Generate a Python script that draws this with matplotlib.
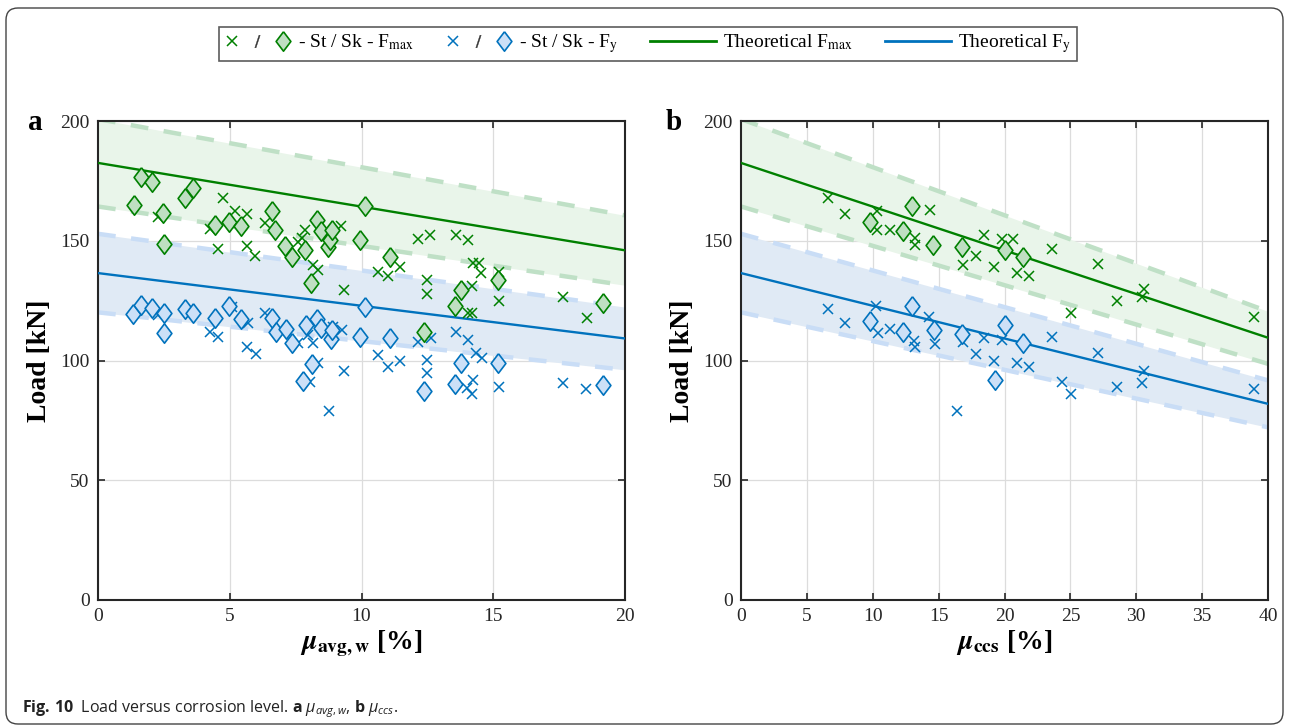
import matplotlib
matplotlib.use('Agg')
import matplotlib.pyplot as plt
import numpy as np
from matplotlib.lines import Line2D
from matplotlib.legend_handler import HandlerTuple
from matplotlib.patches import FancyBboxPatch
from matplotlib.transforms import IdentityTransform

plt.rcParams['font.family'] = ['Liberation Serif', 'DejaVu Serif']
plt.rcParams['mathtext.fontset'] = 'stix'
plt.rcParams['mathtext.rm'] = 'Open Sans'
plt.rcParams['mathtext.it'] = 'Open Sans:italic'
plt.rcParams['mathtext.bf'] = 'Open Sans:bold'

# ---- panel a : load vs mu_avg,w ----
a_st_max_mu = [2.29, 4.25, 4.54, 4.76, 5.2, 5.64, 5.64, 5.96, 6.34, 7.6, 7.73, 7.86, 8.17, 8.36,
               9.22, 9.35, 10.64, 11.02, 11.46, 12.16, 12.47, 12.47, 12.6, 13.59, 14.05, 14.05,
               14.18, 14.18, 14.24, 14.47, 14.52, 15.23, 15.23, 17.66, 18.55]
a_st_max_F = [160.0, 154.8, 146.4, 167.7, 162.4, 161.2, 148.0, 143.6, 157.3, 149.5, 151.0, 154.5,
              139.9, 137.8, 156.2, 129.4, 137.1, 135.3, 139.2, 150.6, 133.8, 127.6, 152.4, 152.4,
              150.3, 120.0, 120.0, 131.1, 140.6, 140.8, 136.7, 137.1, 125.0, 126.4, 117.9]
a_st_y_mu = [2.28, 4.25, 4.54, 5.07, 5.64, 5.68, 5.98, 6.34, 7.6, 7.98, 8.05, 8.17, 8.34, 8.78,
             8.93, 9.25, 9.35, 10.64, 11.02, 11.46, 12.16, 12.47, 12.5, 12.62, 13.59, 13.99,
             14.05, 14.18, 14.22, 14.35, 14.56, 15.23, 17.63, 18.52]
a_st_y_F = [119.0, 112.0, 109.9, 122.5, 105.8, 115.8, 102.7, 119.7, 107.2, 110.6, 91.2, 107.2,
            98.8, 79.0, 114.1, 112.7, 95.8, 102.3, 97.2, 99.8, 107.9, 94.7, 100.2, 109.5, 111.8,
            88.4, 108.4, 86.0, 91.9, 103.0, 101.2, 88.8, 90.7, 88.0]
a_sk_max_mu = [1.37, 1.63, 2.06, 2.48, 2.52, 3.30, 3.59, 4.44, 4.97, 5.41, 6.59, 6.72, 7.10, 7.35,
               7.86, 8.08, 8.30, 8.45, 8.74, 8.80, 8.87, 9.94, 10.13, 11.08, 12.37, 13.55, 13.76,
               15.19, 19.15]
a_sk_max_F = [164.9, 176.8, 174.7, 161.4, 148.5, 167.7, 171.9, 156.6, 158.0, 156.2, 162.4, 154.5,
              148.0, 143.4, 146.1, 132.5, 158.7, 153.9, 147.5, 150.3, 154.5, 150.3, 164.5, 143.3,
              112.0, 122.8, 129.4, 133.6, 123.9]
a_sk_y_mu = [1.34, 1.63, 2.06, 2.50, 2.52, 3.30, 3.62, 4.44, 4.97, 5.41, 6.59, 6.74, 7.12, 7.35,
             7.79, 7.88, 8.11, 8.30, 8.46, 8.84, 8.89, 9.94, 10.13, 11.08, 12.37, 13.55, 13.76,
             15.19, 19.15]
a_sk_y_F = [119.3, 123.2, 121.8, 120.0, 111.3, 121.4, 120.0, 117.6, 122.8, 117.2, 117.6, 111.7,
            113.0, 107.5, 91.6, 114.8, 98.5, 117.2, 113.4, 108.8, 112.7, 110.0, 122.5, 109.3,
            87.4, 90.1, 99.1, 98.8, 89.8]

# ---- panel b : load vs mu_ccs ----
b_st_max_mu = [6.63, 7.89, 10.30, 10.30, 11.31, 13.21, 13.21, 14.35, 16.83, 17.84, 18.44, 19.2,
               19.79, 20.67, 20.97, 21.88, 23.58, 25.05, 27.07, 28.52, 30.41, 30.59, 38.96]
b_st_max_F = [167.7, 161.0, 162.4, 154.5, 154.5, 151.0, 148.2, 162.8, 139.9, 143.6, 152.4, 139.2,
              150.6, 150.6, 136.7, 135.3, 146.6, 120.0, 140.2, 125.0, 126.7, 129.7, 118.0]
b_st_y_mu = [6.63, 7.89, 10.25, 10.37, 11.31, 13.13, 13.21, 14.29, 14.72, 16.37, 16.83, 17.84,
             18.44, 19.2, 19.79, 20.97, 21.88, 23.58, 24.34, 25.05, 27.07, 28.52, 30.41, 30.59, 38.96]
b_st_y_F = [121.4, 115.5, 122.8, 111.3, 113.0, 108.1, 105.8, 118.0, 106.9, 79.0, 107.9, 102.7,
            109.3, 99.8, 108.6, 98.8, 97.2, 110.0, 91.2, 86.0, 103.0, 88.8, 90.7, 95.8, 88.0]
b_sk_max_mu = [9.79, 12.32, 12.96, 14.6, 16.75, 20.04, 21.38]
b_sk_max_F = [158.0, 153.9, 164.5, 148.2, 147.5, 146.1, 143.4]
b_sk_y_mu = [9.79, 12.32, 12.96, 14.65, 16.75, 19.28, 20.04, 21.38]
b_sk_y_F = [116.6, 112.1, 122.8, 112.7, 111.1, 91.9, 114.8, 107.4]

# theoretical lines (end points) and scatter bands (lower, upper)
a_mu_line = [0, 20]
a_theo_max = [182.5, 146.0]
a_theo_y = [136.5, 109.2]
a_band_max = ([164.3, 131.4], [200.8, 160.6])
a_band_y = ([120.1, 96.1], [152.9, 122.3])
b_mu_line = [0, 40]
b_theo_max = [182.5, 109.5]
b_theo_y = [136.5, 81.9]
b_band_max = ([164.3, 98.6], [200.8, 120.5])
b_band_y = ([120.1, 72.1], [152.9, 91.7])

GREEN = '#008000'
GREEN_FILL = '#bfdfc2'
GREEN_BAND = '#e9f5ea'
GREEN_DASH = '#bfe0c6'
BLUE = '#0072bd'
BLUE_FILL = '#cce0f7'
BLUE_BAND = '#e0eaf5'
BLUE_DASH = '#c9ddf6'
DIAMOND = [(0, 1), (0.76, 0), (0, -1), (-0.76, 0), (0, 1)]
DMS = 14     # diamond marker size
XMS = 7.5    # cross marker size


def draw_panel(ax, mu_line, theo_max, theo_y, band_max, band_y, st_max, st_y, sk_max, sk_y,
               xticks, xlabel):
    for band, fill, dash in [(band_max, GREEN_BAND, GREEN_DASH), (band_y, BLUE_BAND, BLUE_DASH)]:
        ax.fill_between(mu_line, band[0], band[1], color=fill, lw=0, zorder=1)
        for edge in band:
            ax.plot(mu_line, edge, color=dash, lw=3.2, ls=(0, (4, 3.5)), zorder=2)
    ax.plot(mu_line, theo_max, color=GREEN, lw=1.7, zorder=3)
    ax.plot(mu_line, theo_y, color=BLUE, lw=1.7, zorder=3)

    ax.plot(st_max[0], st_max[1], ls='none', marker='x', ms=XMS, mew=1.1, color=GREEN, zorder=4)
    ax.plot(st_y[0], st_y[1], ls='none', marker='x', ms=XMS, mew=1.1, color=BLUE, zorder=4)
    ax.plot(sk_max[0], sk_max[1], ls='none', marker=DIAMOND, ms=DMS, mew=1.2,
            mfc=GREEN_FILL, mec=GREEN, zorder=5)
    ax.plot(sk_y[0], sk_y[1], ls='none', marker=DIAMOND, ms=DMS, mew=1.2,
            mfc=BLUE_FILL, mec=BLUE, zorder=5)

    ax.set_xlim(xticks[0], xticks[-1])
    ax.set_ylim(0, 200)
    ax.set_xticks(xticks)
    ax.set_yticks([0, 50, 100, 150, 200])
    ax.grid(True, color='#dcdcdc', lw=0.9)
    ax.set_axisbelow(True)
    ax.tick_params(direction='in', top=True, right=True, length=5, width=1.2,
                   labelsize=14, colors='#262626', pad=6)
    for s in ax.spines.values():
        s.set_color('#262626')
        s.set_linewidth(1.5)
    ax.set_xlabel(xlabel, fontsize=20, fontweight='bold', labelpad=2)
    ax.set_ylabel('Load [kN]', fontsize=20, fontweight='bold', labelpad=6)


fig = plt.figure(figsize=(12.9, 7.27), dpi=100)
ax_a = fig.add_axes([98 / 1290, 127 / 727, 527 / 1290, 479 / 727])
ax_b = fig.add_axes([741 / 1290, 127 / 727, 527 / 1290, 479 / 727])

draw_panel(ax_a, a_mu_line, a_theo_max, a_theo_y, a_band_max, a_band_y,
           (a_st_max_mu, a_st_max_F), (a_st_y_mu, a_st_y_F),
           (a_sk_max_mu, a_sk_max_F), (a_sk_y_mu, a_sk_y_F),
           [0, 5, 10, 15, 20], r'$\boldsymbol{\mu}_{\mathbf{avg,w}}$ [%]')
draw_panel(ax_b, b_mu_line, b_theo_max, b_theo_y, b_band_max, b_band_y,
           (b_st_max_mu, b_st_max_F), (b_st_y_mu, b_st_y_F),
           (b_sk_max_mu, b_sk_max_F), (b_sk_y_mu, b_sk_y_F),
           [0, 5, 10, 15, 20, 25, 30, 35, 40], r'$\boldsymbol{\mu}_{\mathbf{ccs}}$ [%]')

fig.text(28 / 1290, 1 - 123 / 727, 'a', fontsize=21, fontweight='bold', va='center')
fig.text(666 / 1290, 1 - 123 / 727, 'b', fontsize=21, fontweight='bold', va='center')

# legend
slash = Line2D([], [], ls='none', marker='$/$', color='#333333', ms=9, mew=0.3)
h_max = (Line2D([], [], ls='none', marker='x', ms=XMS, mew=1.1, color=GREEN), slash,
         Line2D([], [], ls='none', marker=DIAMOND, ms=DMS, mew=1.2, mfc=GREEN_FILL, mec=GREEN))
h_y = (Line2D([], [], ls='none', marker='x', ms=XMS, mew=1.1, color=BLUE), slash,
       Line2D([], [], ls='none', marker=DIAMOND, ms=DMS, mew=1.2, mfc=BLUE_FILL, mec=BLUE))
h_tmax = Line2D([], [], color=GREEN, lw=2)
h_ty = Line2D([], [], color=BLUE, lw=2)
leg = fig.legend([h_max, h_y, h_tmax, h_ty],
                 [r'- St / Sk - F$_{\mathrm{max}}$', r'- St / Sk - F$_{\mathrm{y}}$',
                  r'Theoretical F$_{\mathrm{max}}$', r'Theoretical F$_{\mathrm{y}}$'],
                 handler_map={tuple: HandlerTuple(ndivide=None, pad=0.5)},
                 loc='center', bbox_to_anchor=(648 / 1290, 1 - 44 / 727), ncol=4,
                 fontsize=14, frameon=True, fancybox=False, edgecolor='#333333',
                 handlelength=3.4, columnspacing=1.6, handletextpad=0.4, borderpad=0.3)
leg.get_frame().set_linewidth(1.2)

# caption and outer frame
fig.text(22 / 1290, 1 - 709 / 727,
         r'$\mathbf{Fig.\,10}$  Load versus corrosion level. $\mathbf{a}$ $\mu_{avg,w}$, '
         r'$\mathbf{b}$ $\mu_{ccs}$.',
         family='Open Sans', fontsize=11.5, math_fontfamily='custom', va='center', color='#222222')
frame = FancyBboxPatch((6, 3), 1277, 716, boxstyle='round,pad=0,rounding_size=12',
                       transform=IdentityTransform(), fill=False, ec='#444444', lw=1)
fig.add_artist(frame)

fig.savefig('out.png', dpi=100, facecolor='white')
